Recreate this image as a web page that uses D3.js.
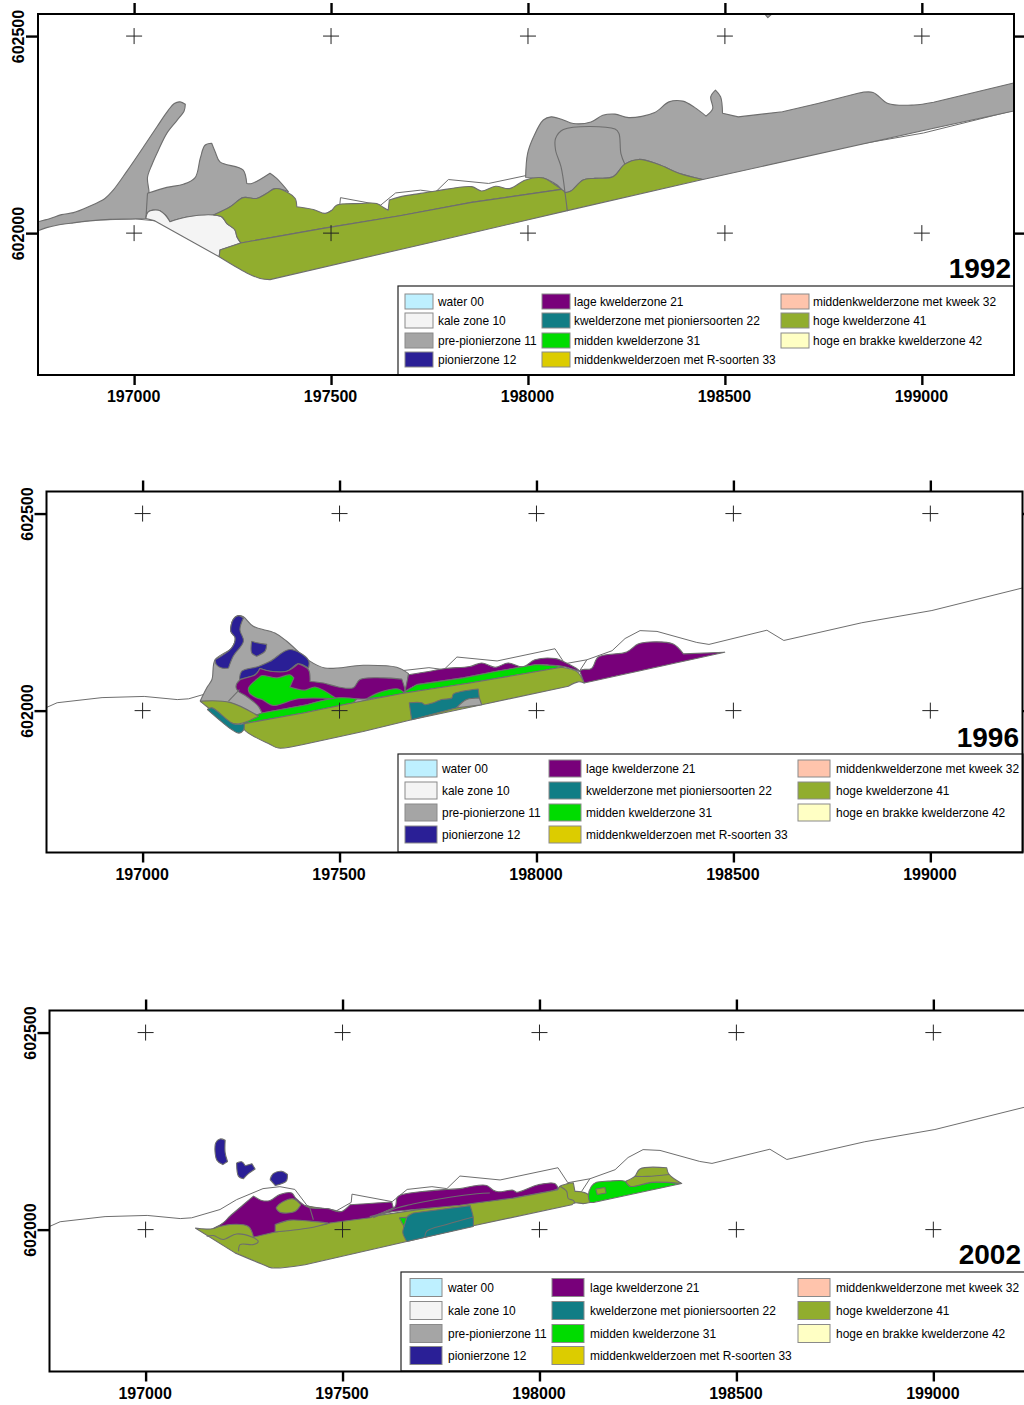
<!DOCTYPE html>
<html>
<head>
<meta charset="utf-8">
<title>Kwelderzones 1992 1996 2002</title>
<script src="https://cdn.jsdelivr.net/npm/d3@7"></script>
<style>
  html, body { margin: 0; padding: 0; background: #fff; }
  svg { display: block; }
  text { font-family: "Liberation Sans", Arial, sans-serif; fill: #000; }
</style>
</head>
<body>
<svg id="chart"></svg>
<script>
// map window, RD metres
const eastDomain = [196756, 199234];
const northDomain = [601640, 602556];
const eastTicks = [197000, 197500, 198000, 198500, 199000];
const northTicks = [602000, 602500];
// polygon points are [easting, metres north of this line]
const northBase = 602000;

const zoneLabels = [
  "water 00", "kale zone 10", "pre-pionierzone 11", "pionierzone 12",
  "lage kwelderzone 21", "kwelderzone met pioniersoorten 22", "midden kwelderzone 31", "middenkwelderzoen met R-soorten 33",
  "middenkwelderzone met kweek 32", "hoge kwelderzone 41", "hoge en brakke kwelderzone 42"
];
const zoneColors = [
  "#bef0ff", "#f4f4f4", "#a5a5a5", "#2a1f96",
  "#78007a", "#117d85", "#00dc00", "#dccc00",
  "#ffc4ac", "#91ad2e", "#ffffc4"
];

// thin 1992 outline, repeated in every year
const coast = [[196756,8],[196783,20],[196897,33],[197004,36],[197088,28],[197117,30],[197189,51],[197231,76],[197298,104],[197341,109],[197379,102],[197410,61],[197423,56],[197463,53],[197485,48],[197522,69],[197524,90],[197626,71],[197664,102],[197727,109],[197765,104],[197798,136],[197900,126],[198047,157],[198072,119],[198128,129],[198192,152],[198225,183],[198263,203],[198306,201],[198407,173],[198438,168],[198585,204],[198628,178],[198826,223],[199004,254],[199233,311]];
const coastBranch = [[198107,97],[198128,129]];

// 1992
const spit92 = [[196756,29],[196787,37],[196816,47],[196846,52],[196884,67],[196926,88],[196947,109],[196981,156],[197024,219],[197058,270],[197087,312],[197102,329],[197117,333],[197130,327],[197127,310],[197108,285],[197083,253],[197062,211],[197045,173],[197034,141],[197038,101],[197030,37],[196990,36],[196939,35],[196888,31],[196846,26],[196804,20],[196778,14],[196756,6]];
const midGray92 = [[197034,101],[197083,116],[197125,124],[197155,141],[197168,190],[197180,223],[197197,228],[197206,206],[197218,181],[197277,160],[197286,126],[197299,126],[197345,152],[197362,139],[197392,105],[197358,113],[197337,101],[197311,88],[197277,90],[197244,67],[197201,46],[197134,41],[197091,29],[197079,46],[197062,58],[197036,54],[197030,37]];
const bare92 = [[197030,37],[197036,54],[197062,58],[197079,46],[197091,29],[197134,41],[197201,46],[197223,41],[197235,25],[197256,8],[197261,-9],[197271,-25],[197218,-43],[197216,-60],[197053,31]];
const northGreen92 = [[197201,46],[197244,67],[197277,90],[197311,88],[197337,101],[197358,113],[197392,102],[197409,88],[197413,67],[197455,60],[197485,50],[197502,58],[197514,71],[197574,75],[197616,75],[197633,65],[197645,58],[197648,84],[197675,92],[197716,99],[197766,107],[197857,118],[197882,107],[197918,119],[197953,113],[197994,135],[198039,140],[198064,126],[198085,111],[197857,78],[197675,44],[197480,12],[197271,-25],[197261,-9],[197256,8],[197235,25],[197223,41]];
const southGreen92 = [[197216,-60],[197218,-43],[197271,-25],[197480,12],[197675,44],[197857,78],[198085,111],[198094,103],[198100,57],[197786,-16],[197345,-118],[197320,-115],[197286,-101]];
const eastGreen92 = [[198094,103],[198109,107],[198140,135],[198170,139],[198216,143],[198246,175],[198282,187],[198332,174],[198383,152],[198444,136],[198100,57]];
const eastGray92 = [[197994,141],[197999,202],[198014,244],[198039,287],[198059,295],[198085,289],[198115,278],[198160,282],[198190,299],[198221,302],[198256,293],[198322,306],[198358,333],[198393,335],[198423,319],[198452,297],[198469,316],[198464,346],[198476,363],[198489,346],[198494,304],[198534,295],[198646,308],[198736,329],[198838,355],[198876,357],[198914,329],[198980,325],[199030,332],[199233,381],[199233,310],[199030,266],[198444,136],[198383,152],[198332,174],[198282,187],[198246,175],[198216,143],[198170,139],[198140,135],[198109,107],[198094,103],[198074,122],[198039,140],[198019,139]];
const speck92 = [[198601,556],[198609,547],[198619,556]];
const innerLine92 = [[198094,103],[198084,168],[198070,211],[198070,240],[198090,263],[198221,264],[198231,253],[198236,202],[198246,175]];

// 1996
const gray96 = [[197146,24],[197163,58],[197176,79],[197184,129],[197226,159],[197235,185],[197224,201],[197230,231],[197243,241],[197256,238],[197281,214],[197336,197],[197366,176],[197421,128],[197463,108],[197560,115],[197645,110],[197675,94],[197671,58],[197544,20],[197298,-18],[197255,-30],[197204,-5]];
const blueA96 = [[197184,129],[197226,159],[197235,185],[197224,201],[197230,231],[197243,241],[197256,235],[197247,206],[197256,176],[197230,138],[197218,108],[197201,108],[197187,117]];
const blueB96 = [[197277,176],[197290,172],[197315,168],[197311,151],[197290,138],[197277,146]];
const blueC96 = [[197246,79],[197252,100],[197294,112],[197324,125],[197374,155],[197421,128],[197421,108],[197395,119],[197366,100],[197324,100],[197298,107],[197286,91]];
const purpleW96 = [[197237,60],[197246,77],[197286,91],[197298,107],[197324,100],[197366,100],[197395,119],[197421,104],[197425,74],[197459,70],[197497,60],[197535,58],[197552,79],[197611,83],[197658,80],[197666,49],[197662,45],[197569,30],[197539,30],[197493,32],[197417,15],[197303,-6],[197294,11],[197264,36],[197243,49]];
const purpleE96 = [[197675,91],[197730,100],[197768,107],[197831,112],[197861,121],[197895,110],[197928,121],[197966,111],[197996,129],[198049,132],[198072,123],[198106,104],[198110,99],[198068,112],[198000,117],[197899,100],[197814,83],[197696,66],[197666,49]];
const purpleFar96 = [[198121,70],[198110,100],[198115,104],[198140,107],[198157,136],[198229,149],[198258,169],[198288,174],[198347,169],[198373,144],[198478,148]];
const midBlob96 = [[197269,58],[197294,83],[197303,89],[197341,83],[197374,91],[197384,83],[197374,60],[197412,52],[197438,60],[197493,30],[197395,30],[197332,13],[197303,28],[197290,32],[197271,45]];
const midStripA96 = [[197258,-33],[197260,-25],[197303,-6],[197417,15],[197493,32],[197544,30],[197535,20],[197408,-6]];
const midStripB96 = [[197569,30],[197598,45],[197649,55],[197664,46],[197662,44]];
const midStripC96 = [[197664,46],[197696,66],[197814,83],[197899,100],[198000,117],[198068,112],[198064,110],[197831,70],[197662,44]];
const greenMain96 = [[197258,-33],[197408,-6],[197535,20],[197662,44],[197831,70],[198064,110],[198102,100],[198110,91],[198121,70],[198106,73],[198081,62],[197861,15],[197683,-23],[197560,-53],[197408,-86],[197345,-95],[197324,-86],[197258,-48]];
const greenWest96 = [[197146,24],[197222,21],[197294,-14],[197256,-31],[197230,-33],[197171,4]];
const tealWest96 = [[197164,3],[197176,7],[197230,-33],[197258,-33],[197256,-50],[197245,-57],[197226,-48]];
const tealBlock96 = [[197677,20],[197709,20],[197717,15],[197738,20],[197759,28],[197785,32],[197789,42],[197852,55],[197855,32],[197823,28],[197797,7],[197683,-23]];
const grayBlock96 = [[197797,7],[197823,28],[197855,32],[197861,15]];
const grayLine96 = [[197218,24],[197246,53]];

// 2002
const blueA02 = [[197178,220],[197189,230],[197202,227],[197202,195],[197208,173],[197196,165],[197181,176]];
const blueB02 = [[197231,169],[197244,172],[197253,162],[197270,167],[197278,154],[197261,142],[197248,129],[197236,135]];
const blueC02 = [[197316,127],[197324,142],[197346,148],[197360,140],[197357,123],[197329,112]];
const greenMain02 = [[197126,4],[197172,3],[197214,30],[197392,63],[197494,46],[197570,33],[197798,66],[197882,74],[197933,84],[198034,102],[198044,100],[198052,110],[198069,116],[198086,119],[198090,97],[198107,96],[198124,89],[198128,69],[198111,66],[198090,68],[198082,63],[197832,10],[197663,-30],[197405,-89],[197320,-97],[197299,-89],[197227,-59]];
const purpleW02 = [[197172,3],[197197,17],[197214,34],[197248,63],[197274,85],[197295,74],[197316,74],[197341,89],[197371,93],[197381,80],[197413,57],[197464,53],[197485,46],[197498,46],[197519,63],[197625,70],[197629,55],[197570,30],[197468,17],[197460,14],[197329,-6],[197274,-19],[197261,8],[197214,13]];
const purpleE02 = [[197638,80],[197646,87],[197697,96],[197764,102],[197798,104],[197841,112],[197866,112],[197883,100],[197895,96],[197933,100],[197942,95],[197997,114],[198039,117],[198048,104],[198035,99],[197933,80],[197887,74],[197798,62],[197629,46],[197570,33],[197633,58]];
const isleA02 = [[197331,55],[197341,66],[197375,78],[197394,63],[197379,46],[197341,44]];
const isleB02 = [[197329,-6],[197329,13],[197367,24],[197422,21],[197463,17],[197426,6]];
const teal02 = [[197664,32],[197680,42],[197824,61],[197832,30],[197832,8],[197663,-30],[197653,-8],[197656,8]];
const midSmall02 = [[197644,30],[197663,31],[197656,8]];
const midEast02 = [[198124,85],[198132,110],[198145,120],[198175,123],[198217,123],[198230,110],[198285,120],[198361,117],[198137,69],[198128,69]];
const isleC02 = [[198143,103],[198166,107],[198169,93],[198147,89]];
const greenNE02 = [[198219,123],[198242,135],[198255,154],[198323,157],[198329,140],[198361,117],[198285,120],[198230,110]];
const lineA02 = [[197417,55],[197426,25]];
const lineB02 = [[197155,-17],[197172,-15],[197197,-25],[197231,-11],[197270,-19],[197286,-30],[197274,-38],[197240,-38],[197236,-55]];
const lineC02 = [[197578,30],[197638,55],[197671,63],[197697,69],[197841,91],[197874,93]];
const lineD02 = [[197709,-19],[197714,-4],[197764,13],[197832,32]];
const lineE02 = [[198242,135],[198275,135],[198329,140]];
const lineF02 = [[198052,110],[198069,97],[198073,79],[198086,74],[198090,66]];

// [zone index, polygon], back to front
const zones92 = [[2, spit92], [2, midGray92], [1, bare92], [2, eastGray92], [2, speck92], [9, northGreen92], [9, southGreen92], [9, eastGreen92]];
const zones96 = [[2, gray96], [3, blueA96], [3, blueB96], [3, blueC96], [4, purpleW96], [4, purpleE96], [4, purpleFar96], [6, midBlob96], [6, midStripA96], [6, midStripB96], [6, midStripC96], [9, greenMain96], [9, greenWest96], [5, tealWest96], [5, tealBlock96], [2, grayBlock96]];
const zones02 = [[3, blueA02], [3, blueB02], [3, blueC02], [9, greenMain02], [4, purpleW02], [4, purpleE02], [9, isleA02], [9, isleB02], [5, teal02], [6, midSmall02], [6, midEast02], [9, isleC02], [9, greenNE02]];

const width = 1024, height = 1405;
const borderColor = "#6e6e6e";

const panels = [
  { year: "1992", zones: zones92, lines: [innerLine92],
    left: 38, top: 14, yearX: 1011, yearY: 278, labelY: 15.5,
    legend: { x: 398, y: 286, w: 616, h: 89, swW: 28, swH: 15, swX: [405, 542, 781], txtX: [438, 574, 813], rows: [302, 321, 341, 360] } },
  { year: "1996", zones: zones96, lines: [grayLine96],
    left: 46.5, top: 491.5, yearX: 1019, yearY: 747, labelY: 16.5,
    legend: { x: 398, y: 754, w: 625, h: 98, swW: 32, swH: 17, swX: [405, 549, 798], txtX: [442, 586, 836], rows: [769, 791, 813, 835] } },
  { year: "2002", zones: zones02, lines: [lineA02, lineB02, lineC02, lineD02, lineE02, lineF02],
    left: 49.5, top: 1010.5, yearX: 1021, yearY: 1263.5, labelY: 16.5,
    legend: { x: 401, y: 1272, w: 630, h: 99, swW: 32, swH: 18, swX: [410, 552, 798], txtX: [448, 590, 836], rows: [1288, 1311, 1334, 1356] } }
];
const panelW = 976, panelH = 361;
const legendCols = [[0, 1, 2, 3], [4, 5, 6, 7], [8, 9, 10]];

// doubled vertices stay sharp in the catmull-rom curve, so long straight edges stay straight
function keepCorners(pts) {
  const out = [];
  pts.forEach((p, i) => {
    const a = pts[(i - 1 + pts.length) % pts.length], b = pts[(i + 1) % pts.length];
    const inLen = Math.hypot(p[0] - a[0], p[1] - a[1]), outLen = Math.hypot(b[0] - p[0], b[1] - p[1]);
    const turn = Math.abs(Math.atan2(
      (p[0] - a[0]) * (b[1] - p[1]) - (p[1] - a[1]) * (b[0] - p[0]),
      (p[0] - a[0]) * (b[0] - p[0]) + (p[1] - a[1]) * (b[1] - p[1])));
    out.push(p);
    if (inLen > 100 || outLen > 100 || turn > 1.1) out.push(p);
  });
  return out;
}

const svg = d3.select("#chart").attr("width", width).attr("height", height);

panels.forEach((p, i) => {
  const x = d3.scaleLinear().domain(eastDomain).range([p.left, p.left + panelW]);
  const y = d3.scaleLinear().domain(northDomain).range([p.top + panelH, p.top]);
  const g = svg.append("g").attr("class", "panel");

  const clipId = "clip" + i;
  g.append("clipPath").attr("id", clipId).append("rect")
    .attr("x", p.left).attr("y", p.top).attr("width", panelW).attr("height", panelH);

  const map = g.append("g").attr("clip-path", `url(#${clipId})`);
  const line = d3.line().x(d => x(d[0])).y(d => y(northBase + d[1]));
  const blob = d3.line().x(d => x(d[0])).y(d => y(northBase + d[1]))
    .curve(d3.curveCatmullRomClosed.alpha(0.5));
  const soft = d3.line().x(d => x(d[0])).y(d => y(northBase + d[1]))
    .curve(d3.curveCatmullRom.alpha(0.5));

  // old outline under everything
  [coast, coastBranch].forEach(l => {
    map.append("path").attr("d", line(l))
      .attr("fill", "none").attr("stroke", borderColor).attr("stroke-width", 1);
  });

  map.selectAll("path.zone")
    .data(p.zones)
    .enter()
    .append("path")
    .attr("class", "zone")
    .attr("d", d => blob(keepCorners(d[1])))
    .attr("fill", d => zoneColors[d[0]])
    .attr("stroke", borderColor)
    .attr("stroke-width", 1.1)
    .attr("stroke-linejoin", "round");

  p.lines.forEach(l => {
    map.append("path").attr("d", soft(l))
      .attr("fill", "none").attr("stroke", borderColor).attr("stroke-width", 1.1);
  });

  // grid crosses
  eastTicks.forEach(e => {
    northTicks.forEach(n => {
      g.append("line").attr("x1", x(e) - 8).attr("x2", x(e) + 8).attr("y1", y(n)).attr("y2", y(n))
        .attr("stroke", "#222").attr("stroke-width", 1);
      g.append("line").attr("x1", x(e)).attr("x2", x(e)).attr("y1", y(n) - 8).attr("y2", y(n) + 8)
        .attr("stroke", "#222").attr("stroke-width", 1);
    });
  });

  // Legend box
  const lg = p.legend;
  g.append("rect").attr("x", lg.x).attr("y", lg.y).attr("width", lg.w).attr("height", lg.h)
    .attr("fill", "#fff").attr("stroke", "#222").attr("stroke-width", 1.2);
  legendCols.forEach((col, c) => {
    col.forEach((z, r) => {
      g.append("rect")
        .attr("x", lg.swX[c]).attr("y", lg.rows[r] - lg.swH / 2 - 0.5)
        .attr("width", lg.swW).attr("height", lg.swH)
        .attr("fill", zoneColors[z]).attr("stroke", "#8a8a8a").attr("stroke-width", 1);
      g.append("text")
        .attr("x", lg.txtX[c]).attr("y", lg.rows[r] + 4)
        .style("font-size", "11.95px")
        .text(zoneLabels[z]);
    });
  });

  // frame
  g.append("rect").attr("x", p.left).attr("y", p.top).attr("width", panelW).attr("height", panelH)
    .attr("fill", "none").attr("stroke", "#000").attr("stroke-width", 2);

  // axes
  const fmt = d3.format("d");
  const bottom = g.append("g").attr("transform", `translate(0,${p.top + panelH})`)
    .call(d3.axisBottom(x).tickValues(eastTicks).tickFormat(fmt).tickSize(10));
  bottom.selectAll("text")
    .attr("x", -1)
    .attr("y", p.labelY)
    .style("font-size", "16px").style("font-weight", "bold").style("font-family", "'Liberation Sans', Arial, sans-serif");

  const top = g.append("g").attr("transform", `translate(0,${p.top})`)
    .call(d3.axisTop(x).tickValues(eastTicks).tickFormat("").tickSize(11));

  const leftAx = g.append("g").attr("transform", `translate(${p.left},0)`)
    .call(d3.axisLeft(y).tickValues(northTicks).tickFormat(fmt).tickSize(12));
  leftAx.selectAll("text")
    .attr("transform", "rotate(-90)")
    .attr("x", 0).attr("y", -14).attr("dy", 0)
    .style("text-anchor", "middle")
    .style("font-size", "16px").style("font-weight", "bold").style("font-family", "'Liberation Sans', Arial, sans-serif");

  const rightAx = g.append("g").attr("transform", `translate(${p.left + panelW},0)`)
    .call(d3.axisRight(y).tickValues(northTicks).tickFormat("").tickSize(10));

  [bottom, top, leftAx, rightAx].forEach(a => {
    a.select(".domain").remove();
    a.selectAll("line").attr("stroke", "#000").attr("stroke-width", 2.4);
  });

  g.append("text")
    .attr("x", p.yearX).attr("y", p.yearY)
    .style("text-anchor", "end")
    .style("font-size", "28px").style("font-weight", "bold")
    .text(p.year);
});
</script>
</body>
</html>
